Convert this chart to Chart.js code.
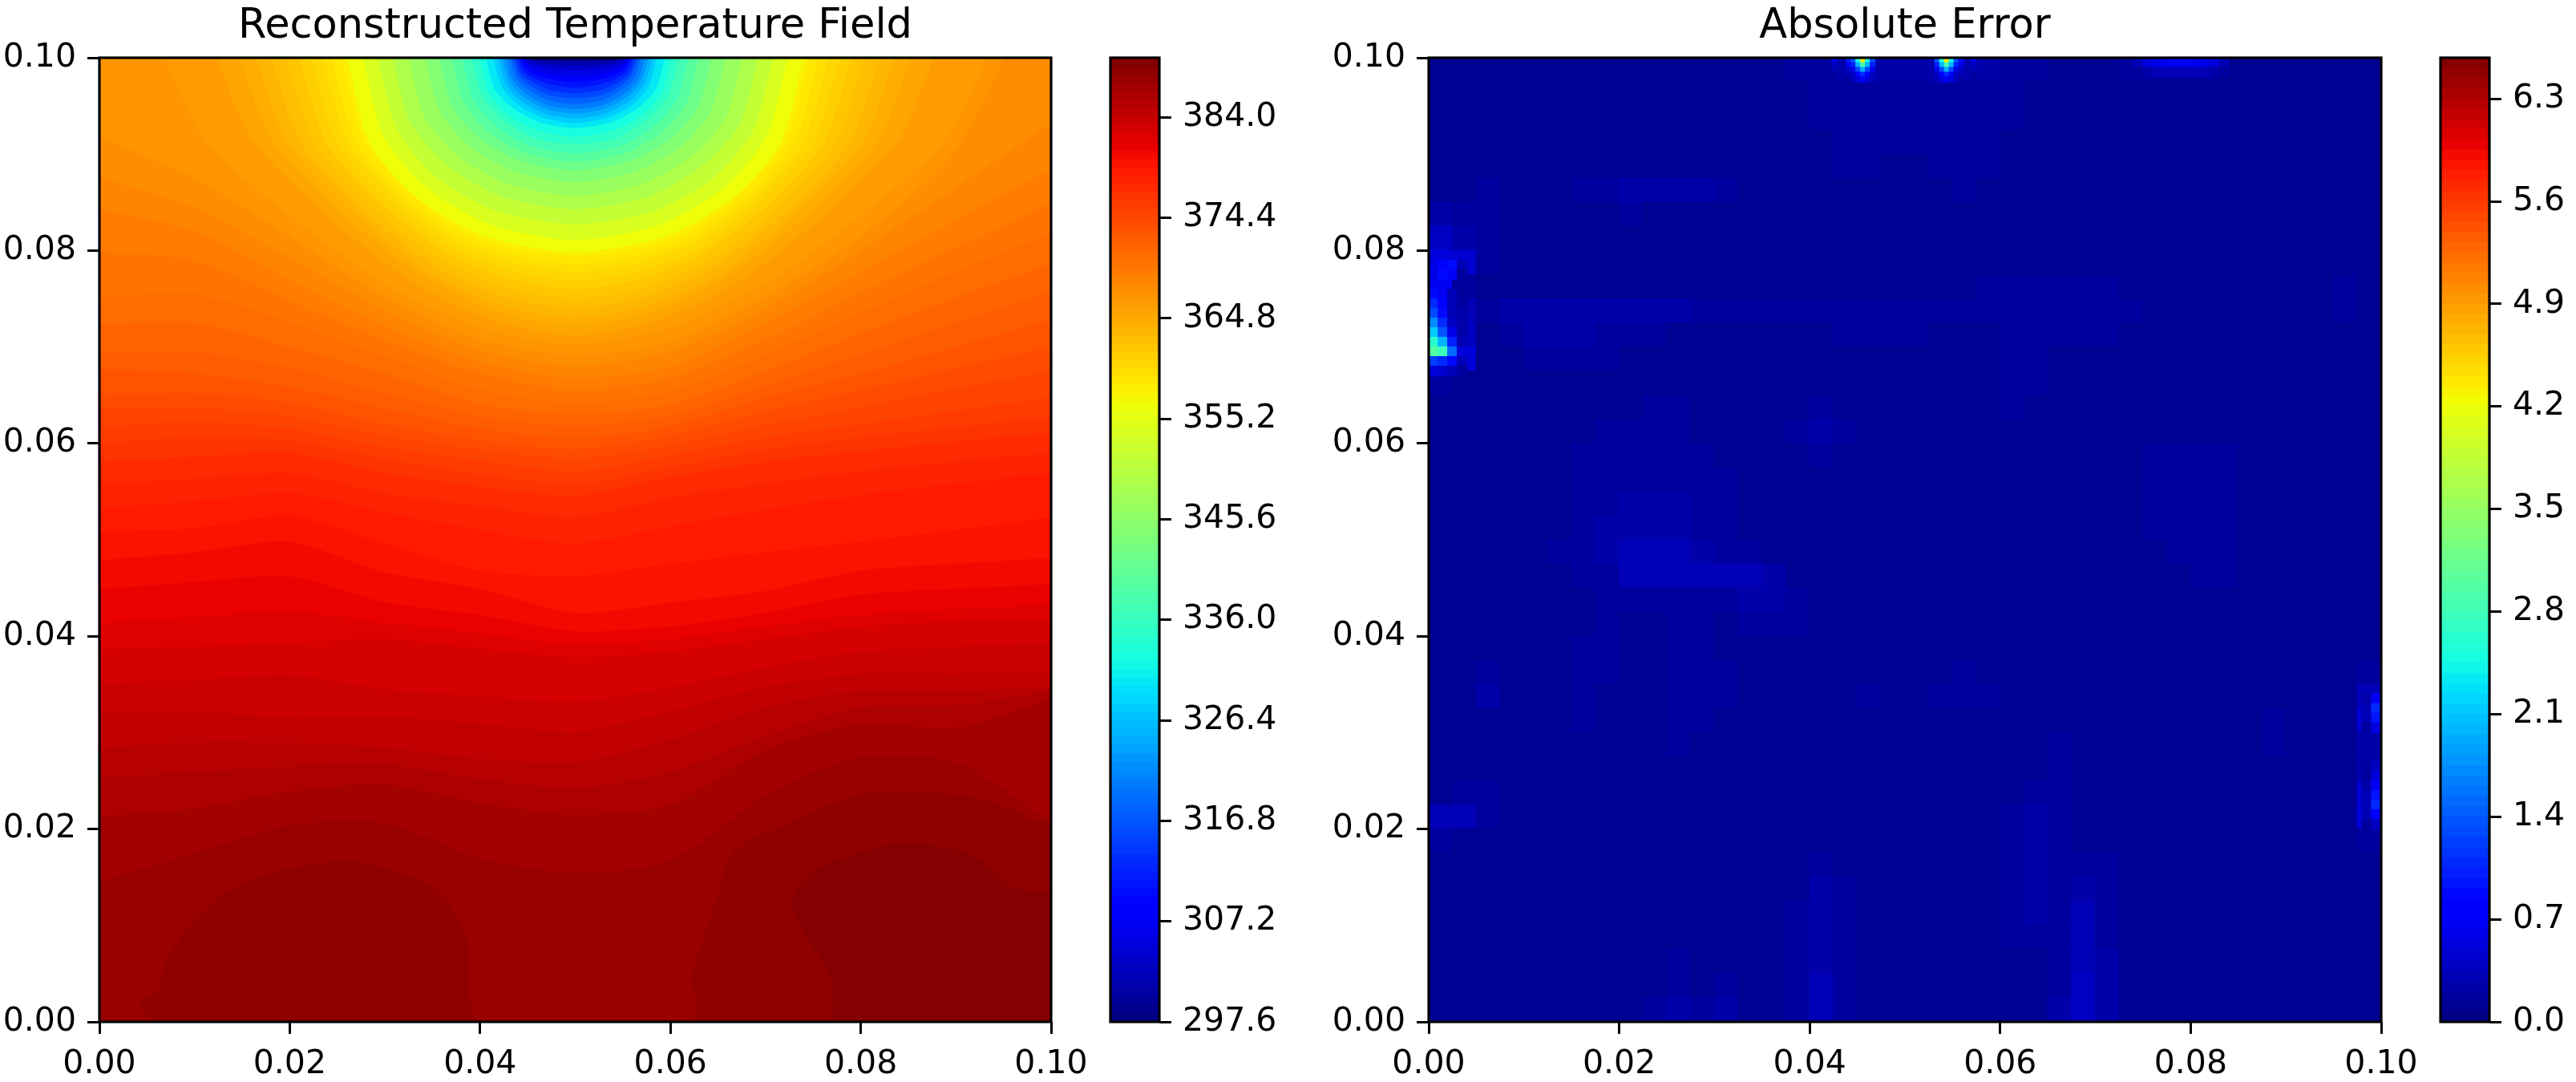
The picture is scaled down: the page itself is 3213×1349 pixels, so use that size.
<!DOCTYPE html>
<html><head><meta charset="utf-8">
<style>html,body{margin:0;padding:0;background:#fff;width:3213px;height:1349px;overflow:hidden}canvas{position:absolute;top:0}</style>
<script src="https://cdn.jsdelivr.net/npm/chart.js@4"></script></head><body>
<canvas id="c1" width="1360" height="1349" style="left:0"></canvas>
<canvas id="b1" width="260" height="1349" style="left:1375px"></canvas>
<canvas id="c2" width="1370" height="1349" style="left:1650px"></canvas>
<canvas id="b2" width="169" height="1349" style="left:3034px"></canvas>
<script>
const titles=['Reconstructed Temperature Field','Absolute Error'];
const axisTicks=[0,0.02,0.04,0.06,0.08,0.1];
const tempTicks=[297.6,307.2,316.8,326.4,336.0,345.6,355.2,364.8,374.4,384.0];
const errTicks=[0,0.7,1.4,2.1,2.8,3.5,4.2,4.9,5.6,6.3];
const tempMin=297.6,tempStep=0.8,tempBands=115,tempTop=389.7;
const errStep=0.07,errBands=94,errTop=6.58;

// contour levels (index j: T = 297.6 + 0.8 j). Arcs around the cold patch: half-width from x=0.05, and y.
const arcLevels=[3,6,9,12,15,18,21,24,27,30,33,36,39,42,45,48,51,54,57,60,63,66,69,72,75];
const arcW=[
[.0051,.0046,.0036,.002,0],[.0052,.0047,.0036,.0021,0],[.0054,.0049,.0038,.0022,0],[.0056,.005,.0039,.0022,0],
[.0058,.0052,.0041,.0023,0],[.006,.0054,.0042,.0024,0],[.0063,.0057,.0044,.0025,0],[.0066,.0059,.0046,.0026,0],
[.0069,.0062,.0048,.0028,0],[.0073,.0066,.0051,.0029,0],[.0077,.0069,.0054,.0031,0],[.0081,.0073,.0057,.0032,0],
[.0086,.0077,.006,.0034,0],[.0094,.0085,.0066,.0038,0],[.0101,.0091,.0071,.004,0],[.0109,.0098,.0076,.0044,0],
[.0119,.0107,.0083,.0048,0],[.013,.0117,.0091,.0052,0],[.0143,.0129,.01,.0057,0],[.0158,.0142,.0111,.0063,0],
[.0175,.0158,.0123,.007,0],[.0192,.0173,.0134,.0077,0],[.0208,.0187,.0146,.0083,0],[.0223,.0201,.0156,.0089,0],
[.024,.0216,.0168,.0096,0]];
const arcY=[
[.1,.0998,.0997,.0996,.0996],[.1,.0997,.0994,.0993,.0992],[.1,.0994,.0991,.0988,.0987],[.1,.0991,.0986,.0982,.098],
[.1,.0989,.0982,.0977,.0975],[.1,.0986,.0978,.0972,.0969],[.1,.0984,.0974,.0966,.0963],[.1,.0982,.097,.0961,.0958],
[.1,.0979,.0966,.0956,.0952],[.1,.0977,.0962,.0951,.0947],[.1,.0975,.0959,.0947,.0942],[.1,.0973,.0955,.0942,.0937],
[.1,.097,.0951,.0938,.0932],[.1,.0968,.0948,.0933,.0927],[.1,.0964,.0941,.0925,.0918],[.1,.0961,.0936,.0917,.091],
[.1,.0957,.0929,.0909,.0901],[.1,.0953,.0923,.0901,.0892],[.1,.0949,.0916,.0893,.0883],[.1,.0944,.0908,.0882,.0871],
[.1,.0938,.0898,.0869,.0857],[.1,.0932,.0888,.0856,.0843],[.1,.0925,.0876,.0841,.0827],[.1,.0918,.0865,.0827,.0811],
[.1,.0912,.0856,.0815,.0798]];
const warmArcLevels=[76,77,78,79,80,81,82,83,84,85,86];
const warmArcW=[
[.0246,.0221,.017,.0113,.0057,0],[.0256,.023,.0177,.0118,.0059,0],[.0266,.0239,.0184,.0122,.0061,0],[.0278,.025,.0192,.0128,.0064,0],
[.029,.0261,.02,.0133,.0067,0],[.0304,.0274,.021,.014,.007,0],[.032,.0288,.0221,.0147,.0074,0],[.0335,.0302,.0231,.0154,.0077,0],
[.0353,.0318,.0244,.0162,.0081,0],[.0377,.0339,.026,.0173,.0087,0],[.0432,.0389,.0298,.0199,.0099,0]];
const warmArcY=[
[.1,.0912,.0855,.0816,.08,.0794],[.1,.0912,.0853,.0811,.0793,.0786],[.1,.0911,.085,.0806,.0786,.0778],[.1,.0911,.0848,.0801,.0778,.0769],
[.1,.0911,.0845,.0796,.077,.076],[.1,.0911,.0842,.0789,.0761,.075],[.1,.0911,.084,.0784,.0752,.074],[.1,.0911,.0838,.0778,.0743,.073],
[.1,.0913,.0837,.0775,.0736,.0722],[.1,.0914,.0836,.0769,.0728,.0712],[.1,.0915,.0835,.0765,.072,.0703]];
// contour levels crossing the whole width
const wideX=[0,.01,.02,.03,.04,.05,.06,.07,.08,.09,.1];
const wideLevels=[87,88,89,90,91,92,93,94,95,96,97,98,99,100,101,102,103,104,105,106,107,108,109,110,111,112];
const wideY=[
[.0918,.0875,.0815,.0752,.0708,.0692,.0705,.0752,.0815,.0905,.1105],
[.0876,.0845,.0793,.0738,.0697,.068,.0695,.074,.08,.0865,.0933],
[.0843,.082,.077,.0722,.0685,.0668,.068,.0725,.0778,.0832,.0885],
[.0799,.079,.0748,.0707,.0673,.0655,.0668,.0708,.0757,.0803,.0849],
[.0751,.0755,.0725,.069,.0656,.0642,.0654,.0692,.0735,.0778,.0818],
[.0724,.0725,.07,.0672,.0641,.063,.064,.0675,.0714,.0751,.0786],
[.0695,.0695,.0678,.0652,.0628,.0618,.0629,.066,.0692,.0725,.0757],
[.0677,.0672,.0658,.0636,.0615,.0605,.0618,.0647,.0672,.07,.0728],
[.065,.0652,.0642,.062,.0603,.0594,.0608,.0633,.0655,.0678,.07],
[.0635,.0637,.0628,.0608,.0594,.0584,.0598,.0619,.0637,.0657,.0675],
[.0617,.0622,.0615,.0596,.0582,.0571,.0587,.0606,.062,.0634,.0648],
[.06,.0606,.0603,.0584,.0568,.0558,.0575,.0594,.0606,.0617,.0628],
[.0581,.0586,.059,.0569,.0555,.0546,.0565,.0581,.0592,.0602,.0611],
[.0558,.0563,.0569,.0548,.0535,.0523,.0544,.0558,.0571,.0581,.059],
[.0533,.054,.0548,.0528,.051,.0496,.0514,.0531,.0546,.0558,.0569],
[.0508,.0512,.0525,.0496,.0468,.0462,.0475,.0487,.0498,.051,.0523],
[.0479,.0487,.0498,.0466,.0449,.0424,.0435,.0447,.0468,.0475,.0481],
[.0449,.0456,.0462,.0435,.0422,.0405,.041,.0424,.0443,.0449,.0454],
[.0414,.042,.0426,.0414,.0403,.0391,.0397,.041,.0422,.0428,.0433],
[.0387,.0389,.0393,.0397,.0387,.0378,.0384,.0397,.041,.0416,.0418],
[.0351,.0355,.036,.0345,.0338,.0332,.0347,.0368,.0384,.0389,.0393],
[.032,.0322,.0315,.0317,.0309,.0301,.0322,.0347,.0361,.0361,.0364],
[.0284,.029,.0289,.0284,.0273,.0269,.0292,.0326,.0343,.0343,.0347],
[.0253,.0259,.0265,.0267,.0252,.0242,.0259,.0296,.0326,.0328,.0343],
[.0213,.0221,.0239,.0246,.0227,.0215,.0225,.0282,.0309,.0305,.0334],
[.0146,.0175,.0204,.0206,.017,.0154,.0167,.0234,.0275,.0269,.0208]];
// hot lobes along the bottom
const lobe113X=[0,.0055,.0042,.0062,.0068,.0098,.0154,.0261,.0348,.0386,.0399,.0622,.0627,.0622,.065,.0665,.07,.0807,.0914,.0957,.0979,.1];
const lobe113Y=[0,0,.002,.0032,.0058,.0104,.0146,.0167,.0141,.0091,0,0,.0028,.0045,.0133,.0175,.0196,.0238,.0234,.0221,.021,.0208];
const lobe114X=[0,.0764,.0768,.0727,.0755,.0837,.0914,.0957,.1];
const lobe114Y=[0,0,.0045,.0121,.0158,.0185,.0175,.0141,.0133];
const baseX=[0,.1],baseY=[0,0];

// absolute error, hundredths of a kelvin: 40 x 40 cells, top row first
const errRows=[
[9,8,8,8,8,8,8,8,8,8,8,8,8,9,10,14,20,22,24,24,22,24,24,22,20,14,12,10,12,16,18,18,16,12,12,9,9,8,8,8],
[8,8,8,8,8,8,8,8,8,8,8,8,8,8,9,11,16,18,20,20,18,20,20,18,16,11,10,9,10,12,12,12,10,10,9,9,10,9,8,8],
[8,8,8,8,8,8,8,8,8,8,8,8,8,8,9,10,14,16,16,15,15,15,16,16,14,10,9,9,9,9,9,9,9,9,9,9,11,9,8,8],
[8,8,8,8,8,8,8,8,8,8,8,8,8,8,8,10,12,15,15,14,14,14,15,15,12,10,9,8,8,8,9,9,8,8,8,9,11,9,8,8],
[8,8,8,9,9,9,9,9,9,8,8,8,8,8,8,9,11,15,14,12,12,14,16,14,11,9,8,8,8,8,8,8,8,8,8,8,10,9,8,8],
[10,12,18,12,10,11,16,20,22,22,22,22,18,12,9,9,10,13,12,10,11,13,15,12,10,9,8,8,8,8,8,8,8,8,8,8,9,8,8,8],
[26,16,20,13,9,9,11,13,14,13,12,12,10,9,8,8,9,11,10,9,10,12,13,11,9,8,8,8,8,8,8,8,8,8,8,8,8,8,8,8],
[38,22,20,10,8,8,8,8,8,8,8,8,8,8,8,8,8,9,9,8,9,11,12,10,8,8,8,8,8,8,8,8,8,8,8,8,8,9,10,9],
[55,48,14,8,8,8,8,8,8,8,8,8,8,8,8,8,8,8,8,8,8,10,12,12,11,10,10,10,9,8,8,8,8,8,8,8,8,9,12,10],
[70,18,9,8,8,8,8,8,8,8,8,8,8,8,8,8,8,8,8,8,8,9,12,14,16,18,18,18,16,12,9,8,8,8,8,8,9,10,14,10],
[100,28,16,22,24,26,26,26,24,24,22,18,14,14,14,14,14,15,15,15,16,16,14,16,18,18,18,18,18,16,10,9,9,9,9,9,9,10,14,10],
[150,36,12,18,22,22,22,20,18,16,13,12,12,12,12,12,13,14,14,14,14,13,10,8,15,18,18,18,15,12,9,8,8,8,8,8,8,9,10,8],
[170,55,8,10,14,14,14,14,12,10,9,9,9,9,9,9,10,10,10,10,9,9,8,8,18,16,12,12,10,9,8,8,8,8,8,8,8,8,8,8],
[14,10,8,8,8,8,8,8,8,8,8,8,8,8,8,9,12,9,8,8,8,8,8,10,18,14,10,8,8,8,8,8,8,8,8,8,8,8,8,8],
[12,10,8,8,8,8,8,10,12,14,14,11,8,8,8,12,20,12,8,8,8,8,8,10,14,10,8,8,8,8,8,8,8,8,8,8,8,8,8,8],
[10,9,8,8,8,8,12,14,16,17,16,13,10,8,8,14,24,14,8,8,8,8,8,8,8,8,8,8,8,8,8,8,8,8,8,8,8,8,8,8],
[9,8,8,8,8,8,14,17,18,18,18,16,12,8,8,12,20,12,8,8,8,8,8,8,8,8,8,8,10,12,14,18,20,14,9,8,8,8,8,8],
[8,8,8,8,8,9,15,18,20,20,20,17,14,8,8,8,10,9,8,8,8,8,8,8,8,8,8,8,10,12,14,18,20,14,9,8,8,8,8,8],
[8,8,8,8,8,10,16,20,22,23,23,18,14,9,8,8,8,8,8,8,8,8,8,8,8,8,8,8,9,12,14,16,20,14,9,8,8,8,8,8],
[8,8,8,8,9,12,17,22,24,24,24,20,15,10,8,8,8,8,8,8,8,8,8,8,8,8,8,8,9,12,14,16,18,16,9,8,8,8,8,8],
[8,8,8,8,10,14,18,26,28,28,28,26,20,14,10,9,8,8,8,8,8,8,8,8,8,8,8,8,8,10,12,14,16,16,9,8,8,8,8,8],
[8,8,8,8,10,12,14,16,28,30,32,30,30,28,26,12,9,8,8,8,8,8,8,8,8,8,8,8,8,8,10,12,14,14,9,8,8,8,8,8],
[8,8,8,8,8,10,12,16,16,20,20,16,14,24,24,16,9,8,8,8,8,8,8,8,8,8,8,8,8,8,8,10,10,9,8,8,8,8,8,8],
[8,8,8,8,8,8,12,14,10,12,18,14,10,14,20,14,9,8,8,8,8,8,8,8,8,8,8,8,8,8,8,8,8,8,8,8,8,8,8,8],
[8,8,10,8,8,8,14,14,8,10,18,16,12,10,10,9,8,8,8,8,8,8,10,9,8,8,8,8,8,8,8,8,8,8,8,8,8,8,8,10],
[8,10,18,10,8,8,18,14,8,10,20,16,14,10,9,8,8,8,8,10,9,10,14,12,9,8,9,8,8,8,8,8,8,8,8,8,8,8,9,16],
[8,10,22,10,8,8,18,12,8,10,18,16,14,10,9,8,8,10,14,12,10,14,18,14,9,8,8,8,8,8,8,8,8,8,9,12,10,9,12,30],
[8,8,12,8,8,8,14,10,8,9,16,14,12,9,8,8,8,9,10,9,8,9,10,9,8,8,10,8,8,8,8,8,8,8,10,18,12,9,10,45],
[8,8,9,8,8,8,9,9,8,8,14,12,10,8,8,8,8,8,8,9,8,8,8,8,8,8,14,9,8,8,8,8,8,8,9,18,12,9,9,26],
[8,10,12,9,8,8,8,8,8,8,10,9,8,8,8,8,8,8,8,8,8,8,8,8,8,10,18,10,8,8,8,8,8,8,8,10,9,9,9,22],
[10,18,14,9,8,8,10,12,10,8,8,8,8,8,8,8,8,8,8,8,8,8,8,8,10,14,18,10,8,8,8,8,8,8,8,8,8,9,10,45],
[28,30,14,9,8,8,10,12,10,8,8,8,8,8,8,8,8,8,8,8,8,8,8,8,14,24,20,9,8,8,8,8,8,8,8,8,8,9,10,50],
[14,12,10,8,8,8,8,8,8,8,8,8,8,8,8,8,10,8,8,8,8,8,8,8,16,24,16,9,8,8,8,8,8,8,8,8,8,8,9,18],
[10,9,8,8,8,8,8,8,8,8,8,8,8,8,8,10,14,10,8,8,9,10,8,8,16,24,14,20,14,8,8,8,8,8,8,8,8,9,9,10],
[8,8,8,8,8,8,8,8,8,8,10,9,8,8,8,12,22,14,8,8,8,8,8,8,18,24,16,26,16,9,8,8,8,8,8,8,8,9,8,8],
[8,8,8,8,8,8,8,8,8,8,12,10,9,8,8,14,25,16,8,8,8,8,8,8,18,22,18,28,18,9,8,8,8,8,8,8,8,9,8,8],
[8,8,8,8,8,8,10,12,10,8,12,12,10,8,8,14,26,16,8,8,8,8,8,8,14,16,18,30,20,10,8,8,8,8,8,8,8,8,8,8],
[8,8,8,8,8,8,10,10,9,10,14,12,12,8,8,14,26,16,8,8,8,8,8,8,10,10,20,34,22,10,8,8,8,8,8,8,8,8,8,8],
[8,8,8,8,8,8,8,8,9,12,18,12,20,10,8,16,30,18,8,8,8,8,8,8,9,9,20,40,24,10,8,9,10,9,8,8,8,8,8,8],
[9,8,8,8,8,8,8,8,9,14,22,14,22,12,9,16,32,18,9,8,8,8,8,8,8,9,22,40,26,10,8,9,10,9,8,8,8,8,8,8]];
// small hot spots at the top edge (x columns, y rows, kelvin)
const hotTopX=[.0426,.0441,.0446,.0451,.0456,.0461,.0466,.0534,.0539,.0544,.0549,.0554,.0559,.0572];
const hotTopY=[.09975,.09925,.09875,.09825,.09775];
const hotTopE=[
[.6,1,1.4,2.5,4.4,2.5,1.4,1.4,2.5,4.4,2.5,1.4,.9,.6],
[.4,.7,1,2,2.9,2,1,1,2,2.9,2,1,.6,.4],
[.3,.4,.6,1.3,2,1.3,.6,.6,1.3,2,1.3,.6,.4,.3],
[.2,.3,.4,.8,1.1,.8,.4,.4,.8,1.1,.8,.4,.3,.2],
[.2,.2,.3,.5,.7,.5,.3,.3,.5,.7,.5,.3,.2,.2]];
// thin bright strip under the top edge
const hotBandX=[.0745,.0755,.0765,.0775,.0785,.0795,.0805,.0815,.0825,.0835];
const hotBandY=[.0995,.0985];
const hotBandE=[[.35,.5,.6,.65,.7,.7,.65,.6,.5,.35],[.2,.25,.3,.35,.35,.35,.35,.3,.25,.2]];
// hot spots along the left and right edges
const hotLeftX=[.0005,.0015,.0025,.0035];
const hotLeftY=[.0785,.0775,.0755,.0745,.0735,.0725,.0715,.0705,.0695,.0685,.0675];
const hotLeftE=[
[.6,.8,.9,.3],[.6,.9,.7,.2],[.9,.7,.3,.15],[1.1,.8,.3,.2],[1.3,.9,.35,.25],[1.7,1.1,.4,.25],
[2.1,1.4,.6,.25],[2.6,2,1,.3],[3,2.8,1.5,.5],[1.2,1.1,.9,.3],[.5,.45,.35,.15]];
const hotRightX=[.0985,.0995];
const hotRightY=[.0335,.0325,.0315,.0305,.0265,.0255,.0245,.0235,.0225,.0215,.0205];
const hotRightE=[[.25,.7],[.35,1.05],[.35,.95],[.2,.5],[.2,.4],[.2,.5],[.25,.65],[.3,.95],[.35,1.1],[.3,.75],[.15,.4]];

function seg(f,p){for(let i=1;i<p.length;i++){if(f<=p[i][0]){const a=p[i-1],b=p[i];return a[1]+(b[1]-a[1])*(f-a[0])/(b[0]-a[0]);}}return p[p.length-1][1];}
function jet(f){f=Math.max(0,Math.min(1,f));
 const r=seg(f,[[0,0],[.35,0],[.66,1],[.89,1],[1,.5]]),g=seg(f,[[0,0],[.125,0],[.375,1],[.64,1],[.91,0],[1,0]]),b=seg(f,[[0,.5],[.11,1],[.34,1],[.65,0],[1,0]]);
 return `rgb(${Math.round(r*255)},${Math.round(g*255)},${Math.round(b*255)})`;}
const tempF=t=>(t-tempMin)/(tempStep*tempBands);
const errColor=e=>jet((Math.floor(e/errStep)+.5)*errStep/(errBands*errStep));

const curves=[];
arcLevels.forEach((j,i)=>curves.push({j,x:arcW[i].map(w=>.05-w).concat(arcW[i].slice(0,-1).reverse().map(w=>.05+w)),y:arcY[i].concat(arcY[i].slice(0,-1).reverse())}));
warmArcLevels.forEach((j,i)=>curves.push({j,x:warmArcW[i].map(w=>.05-w).concat(warmArcW[i].slice(0,-1).reverse().map(w=>.05+w)),y:warmArcY[i].concat(warmArcY[i].slice(0,-1).reverse())}));
wideLevels.forEach((j,i)=>curves.push({j,x:wideX,y:wideY[i]}));
curves.push({j:113,x:lobe113X,y:lobe113Y},{j:114,x:lobe114X,y:lobe114Y},{j:115,x:baseX,y:baseY});
let prev=0;
const contourSets=curves.map(c=>{const col=jet(tempF(tempMin+tempStep*(prev+c.j)/2));prev=c.j;
 return {type:'line',data:c.x.map((x,i)=>({x,y:c.y[i]})),backgroundColor:col,borderColor:col,borderWidth:0,pointRadius:0,tension:.25,fill:{value:.1}};});

function cellSet(xs,ys,es,size){const data=[],colors=[];
 ys.forEach((y,r)=>xs.forEach((x,c)=>{data.push({x,y});colors.push(errColor(es[r][c]));}));
 return {type:'scatter',data,pointStyle:'rect',pointBorderWidth:0,backgroundColor:colors,pointBackgroundColor:colors,
  pointRadius:ctx=>{const s=ctx.chart.scales;if(!s.x||!s.y)return 1;
    const w=Math.abs(s.x.getPixelForValue(size)-s.x.getPixelForValue(0)),h=Math.abs(s.y.getPixelForValue(size)-s.y.getPixelForValue(0));
    return (Math.max(w,h)/2+.6)*Math.SQRT2;}};}
const gridCols=errRows[0].map((_,c)=>.00125+.0025*c),gridRows=errRows.map((_,r)=>.09875-.0025*r);
const errSets=[cellSet(hotTopX,hotTopY,hotTopE,.0005),cellSet(hotBandX,hotBandY,hotBandE,.001),cellSet(hotLeftX,hotLeftY,hotLeftE,.001),cellSet(hotRightX,hotRightY,hotRightE,.001),
 cellSet(gridCols,gridRows,errRows.map(r=>r.map(v=>v/100)),.0025)];

const font={family:'"DejaVu Sans"',size:41};
const spines={id:'spines',afterDatasetsDraw(ch){const a=ch.chartArea,g=ch.ctx;g.save();g.strokeStyle='#000';g.lineWidth=3.2;g.strokeRect(a.left,a.top,a.right-a.left,a.bottom-a.top);g.restore();}};
const tickGrid={drawOnChartArea:false,drawTicks:true,tickLength:15,tickWidth:3,tickColor:'#000'};
function field(id,sets,title,yw,pr){return new Chart(document.getElementById(id),{data:{datasets:sets},plugins:[spines],
 options:{responsive:false,animation:false,events:[],devicePixelRatio:1,layout:{padding:{left:0,right:pr,top:0,bottom:0}},
  plugins:{legend:{display:false},tooltip:{enabled:false},title:{display:true,text:title,color:'#000',fullSize:false,font:{family:'"DejaVu Sans"',size:51,weight:'normal'},padding:{top:3,bottom:7.8}}},
  scales:{
   x:{type:'linear',min:0,max:.1,grid:tickGrid,border:{display:false},afterBuildTicks:s=>{s.ticks=axisTicks.map(value=>({value}));},afterFit:s=>{s.height=75;s.paddingLeft=0;s.paddingRight=0;},
      ticks:{color:'#000',font,padding:14,maxRotation:0,minRotation:0,autoSkip:false,callback:v=>v.toFixed(2)}},
   y:{type:'linear',min:0,max:.1,grid:tickGrid,border:{display:false},afterBuildTicks:s=>{s.ticks=axisTicks.map(value=>({value}));},afterFit:s=>{s.width=yw;s.paddingTop=0;s.paddingBottom=0;},
      ticks:{color:'#000',font,padding:14,autoSkip:false,callback:v=>v.toFixed(2)}}}}});}
function colorbar(id,bands,step,min,top,ticks,left,axw){
 const sets=[];for(let i=0;i<bands;i++){const hi=i===bands-1?top:min+step*(i+1);
  sets.push({type:'bar',data:[[min,hi]],backgroundColor:jet((i+.5)/bands),borderWidth:0,barPercentage:1,categoryPercentage:1,grouped:false});}
 return new Chart(document.getElementById(id),{data:{labels:[''],datasets:sets},plugins:[spines],
 options:{responsive:false,animation:false,events:[],devicePixelRatio:1,layout:{padding:{left,right:0,top:72,bottom:75}},
  plugins:{legend:{display:false},tooltip:{enabled:false}},
  scales:{x:{type:'category',display:false},
   y:{type:'linear',position:'right',min,max:top,grid:tickGrid,border:{display:false},afterBuildTicks:s=>{s.ticks=ticks.map(value=>({value}));},afterFit:s=>{s.width=axw;s.paddingTop=0;s.paddingBottom=0;},
      ticks:{color:'#000',font,padding:14,autoSkip:false,callback:v=>v.toFixed(1)}}}}});}
field('c1',contourSets,titles[0],124,49);
colorbar('b1',tempBands,tempStep,tempMin,tempTop,tempTicks,10,189);
field('c2',errSets,titles[1],132,50);
colorbar('b2',errBands,errStep,0,errTop,errTicks,10,98);
</script></body></html>
